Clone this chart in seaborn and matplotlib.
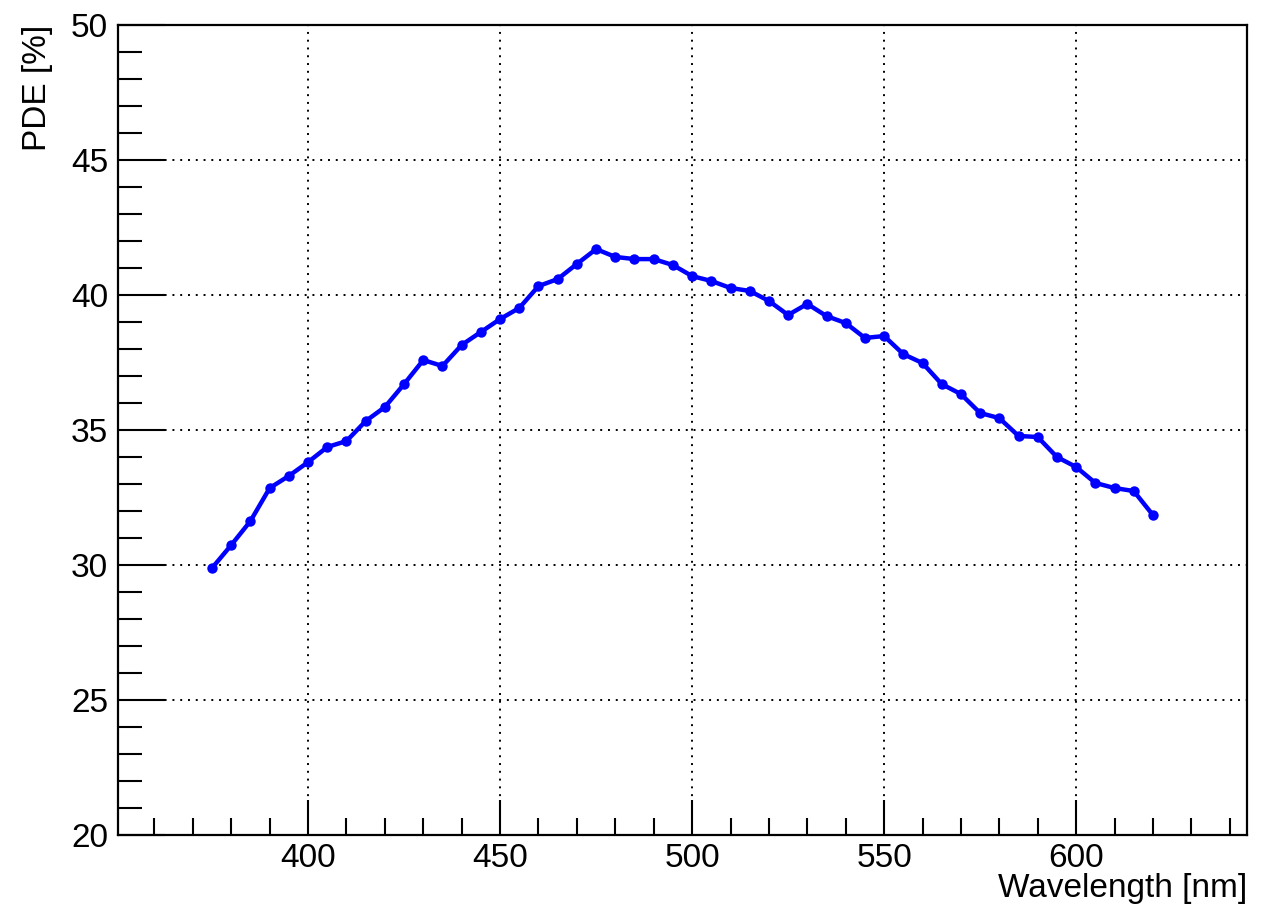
import numpy as np
import pandas as pd
import matplotlib
matplotlib.use("Agg")
import matplotlib.pyplot as plt
import seaborn as sns
from matplotlib.ticker import MultipleLocator

# PDE vs wavelength
wavelength = [375, 380, 385, 390, 395, 400, 405, 410, 415, 420,
              425, 430, 435, 440, 445, 450, 455, 460, 465, 470,
              475, 480, 485, 490, 495, 500, 505, 510, 515, 520,
              525, 530, 535, 540, 545, 550, 555, 560, 565, 570,
              575, 580, 585, 590, 595, 600, 605, 610, 615, 620]
pde = [29.89, 30.74, 31.63, 32.85, 33.30, 33.81, 34.37, 34.59, 35.33, 35.85,
       36.70, 37.59, 37.37, 38.15, 38.63, 39.11, 39.52, 40.33, 40.59, 41.15,
       41.70, 41.41, 41.33, 41.33, 41.11, 40.70, 40.52, 40.26, 40.15, 39.78,
       39.26, 39.67, 39.22, 38.96, 38.41, 38.48, 37.81, 37.48, 36.70, 36.33,
       35.63, 35.44, 34.78, 34.74, 34.00, 33.63, 33.04, 32.85, 32.74, 31.85]

df = pd.DataFrame({"wavelength": wavelength, "pde": pde})

sns.set_style("white")
plt.rcParams['font.family'] = ['Liberation Sans', 'DejaVu Sans']
plt.rcParams['text.color'] = 'black'
plt.rcParams['axes.labelcolor'] = 'black'
plt.rcParams['xtick.color'] = 'black'
plt.rcParams['ytick.color'] = 'black'

fig = plt.figure(figsize=(12.74, 9.06), dpi=100)
ax = fig.add_axes([118/1274, 1-835/906, (1247-118)/1274, (835-25)/906])

sns.lineplot(data=df, x="wavelength", y="pde", ax=ax, color="#0000ff",
             linewidth=3.2, marker="o", markersize=7.5, markeredgewidth=0)

ax.set_xlim(350.5, 644.5)
ax.set_ylim(20, 50)
ax.xaxis.set_major_locator(MultipleLocator(50))
ax.xaxis.set_minor_locator(MultipleLocator(10))
ax.yaxis.set_major_locator(MultipleLocator(5))
ax.yaxis.set_minor_locator(MultipleLocator(1))

ax.grid(True, which="major", color="black", linestyle=(0, (1, 3)), linewidth=1.4)
ax.tick_params(which="both", direction="in", bottom=True, left=True,
               top=False, right=False, labelsize=24, color="black",
               labelcolor="black", width=1.5)
ax.tick_params(axis="x", which="major", length=25, pad=6)
ax.tick_params(axis="x", which="minor", length=12)
ax.tick_params(axis="y", which="major", length=34, pad=7)
ax.tick_params(axis="y", which="minor", length=17)

for s in ax.spines.values():
    s.set_color("black")
    s.set_linewidth(1.6)

ax.set_xlabel("Wavelength [nm]", fontsize=24, loc="right")
ax.set_ylabel("PDE [%]", fontsize=24, loc="top")
ax.xaxis.set_label_coords(1.0, -0.047)
ax.yaxis.set_label_coords(-0.058, 1.0)
ax.xaxis.label.set_verticalalignment("top")

fig.savefig("out.png", dpi=100)
